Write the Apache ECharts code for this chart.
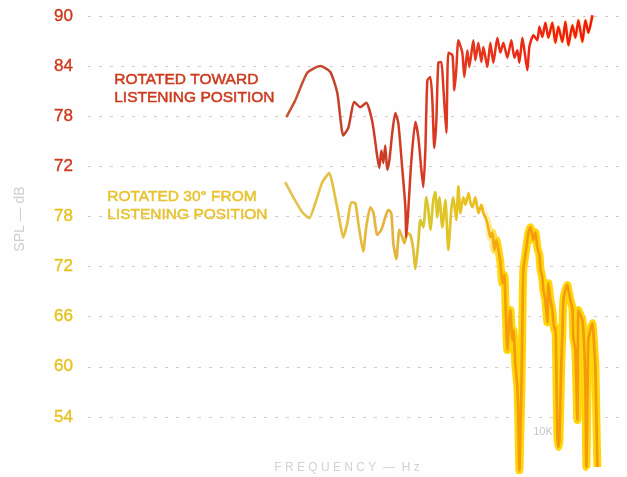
<!DOCTYPE html>
<html>
<head>
<meta charset="utf-8">
<script src="https://cdn.jsdelivr.net/npm/echarts@6/dist/echarts.min.js"></script>
<style>
  html, body { margin: 0; padding: 0; background: #fefefe; }
  #chart { width: 627px; height: 477px; }
</style>
</head>
<body>
<div id="chart"></div>
<script>
// Loudspeaker frequency response, two orientations (Hz, dB SPL)
const towardFreq = [24, 29.5, 38.9, 52.5, 66.1, 77.6, 89.1,
  100, 115, 132, 151, 174, 195, 204, 214, 224, 234, 245, 257, 275, 295, 316, 347, 372, 380, 398, 427,
  468, 501, 537, 562, 589, 617, 661, 692, 724, 759, 794, 851, 891, 955,
  1000, 1100, 1150, 1200, 1260, 1380, 1445, 1549, 1622, 1778, 1862, 1995, 2138, 2239, 2455, 2630, 2818,
  3090, 3311, 3548, 3890, 4266, 4571, 4898, 5129, 5495, 5754, 6166, 6457, 7079, 7762, 8128, 8710, 9333,
  10000, 10960, 11750, 12590, 13800, 14790, 15850, 17380, 18620, 19950, 21880, 23440, 25120, 27540];
const towardSpl = [77.9, 79.9, 83.2, 84.0, 83.3, 80.8, 75.7,
  76.6, 79.7, 79.1, 79.6, 77.3, 73.1, 71.8, 73.9, 72.4, 74.5, 71.6, 72.7, 76.0, 78.4, 77.2, 71.6, 67.1, 63.5, 66.8, 72.7,
  77.3, 75.5, 71.6, 69.5, 73.9, 82.3, 82.7, 79.9, 74.2, 77.5, 84.4, 84.5, 81.5, 76.0,
  85.6, 85.3, 81.1, 83.5, 87.1, 85.6, 82.7, 85.9, 83.9, 87.1, 84.7, 86.8, 84.5, 86.3, 83.9, 86.8, 84.4,
  87.4, 85.6, 86.8, 85.0, 87.1, 85.0, 85.9, 84.4, 87.4, 85.9, 83.5, 86.3, 87.7, 87.1, 88.7, 87.5, 89.2,
  87.4, 89.2, 86.8, 88.7, 86.9, 89.3, 86.5, 88.9, 87.4, 89.5, 86.9, 89.5, 88.0, 90.1];

const offFreq = [23.4, 28.2, 34.7, 40.7, 46.8, 55.0, 64.6, 70.8, 79.4, 89.1, 97.7,
  107, 117.5, 126, 141, 151, 166, 178, 195, 214, 234, 251, 269, 282, 302, 324, 347, 363, 389, 417, 447,
  468, 501, 525, 562, 603, 631, 661, 708, 741, 776, 813, 871, 933,
  1000, 1070, 1120, 1200, 1260, 1320, 1410, 1480, 1590, 1660, 1740, 1860, 2000, 2140, 2240, 2400, 2510,
  2630, 2750, 2880, 3020, 3160, 3310, 3470, 3630, 3720, 3890, 4070, 4170, 4370, 4470, 4680, 4900, 5010,
  5130, 5250, 5370, 5500, 5620, 5890, 6170, 6310, 6610, 6920, 7080, 7410, 7760, 8130, 8320, 8710, 8910,
  9330, 9770,
  10000, 10470, 10960, 11480, 11750, 12300, 12590, 12880, 13490, 13800, 14130, 14790, 15490, 15850,
  16600, 17380, 17780, 18620, 19500, 19950, 20890, 21880, 22910, 23440, 23990, 24550, 25120, 26300,
  27540, 28840, 29510, 30200, 30900];
const offSpl = [82.1, 80.3, 78.5, 77.8, 79.6, 82.1, 83.2, 81.4, 78.4, 75.5, 77.2,
  79.7, 79.6, 77.2, 73.8, 76.7, 79.1, 78.5, 75.8, 76.4, 77.9, 78.8, 78.4, 74.8, 72.9, 76.4, 75.5, 74.8, 76.0, 75.8, 74.0,
  71.7, 74.8, 77.6, 76.7, 80.3, 78.8, 76.4, 80.0, 80.9, 77.9, 80.3, 76.7, 80.0,
  74.0, 78.8, 80.3, 77.6, 81.6, 78.4, 80.3, 79.4, 80.8, 79.7, 79.1, 80.3, 78.4, 79.4, 78.4, 77.6, 76.6,
  75.5, 76.1, 74.0, 75.2, 74.0, 72.5, 70.0, 71.0, 68.0, 62.0, 65.8, 66.8, 63.2, 64.4, 60.2, 57.6, 53.6,
  47.6, 52.4, 57.2, 65.6, 71.6, 73.4, 75.2, 76.0, 76.7, 75.8, 75.2, 76.1, 74.3, 73.4, 71.8, 70.6, 69.2,
  68.0, 65.3,
  70.0, 68.0, 66.8, 64.4, 64.7, 52.0, 50.4, 51.2, 60.8, 64.0, 68.0, 69.2, 69.8, 69.2,
  68.0, 67.0, 63.5, 62.0, 53.6, 66.8, 66.2, 65.6, 62.0, 57.6, 48.0, 56.0, 63.2, 64.4,
  65.2, 62.0, 60.0, 53.6, 48.0];

// Tick labels of the two stacked scales
const towardTicks = [90, 84, 78, 72];
const offTicks = [78, 72, 66, 60, 54];
// The off-axis trace sits 12 dB lower on the shared plotting scale
const OFF_SHIFT = 12;

const RED = '#cc3a1c';
const YELLOW = '#e6c21e';
const FONT = '"Liberation Sans", Arial, sans-serif';

const towardData = towardFreq.map((f, i) => [f, towardSpl[i]]);
const offData = offFreq.map((f, i) => [f, offSpl[i] - OFF_SHIFT]);

const grad = (stops) => new echarts.graphic.LinearGradient(0, 0, 1, 0,
  stops.map(s => ({ offset: s[0], color: s[1] })));

const gridColor = '#cfcac6';
const chart = echarts.init(document.getElementById('chart'), null, { renderer: 'canvas' });

chart.setOption({
  backgroundColor: '#fefefe',
  animation: false,
  grid: { left: 88, right: 7, top: 16, bottom: 10, containLabel: false },
  xAxis: {
    type: 'log',
    logBase: 10,
    min: 0.25,
    max: 52000,
    axisLine: { show: false },
    axisTick: { show: false },
    axisLabel: { show: false },
    splitLine: { show: false }
  },
  yAxis: {
    type: 'value',
    min: 36,
    max: 90,
    interval: 6,
    axisLine: { show: false },
    axisTick: { show: false },
    axisLabel: {
      margin: 15,
      formatter: function (v) {
        if (v >= 72 && towardTicks.indexOf(v) >= 0) return '{r|' + v + '}';
        if (v < 72 && offTicks.indexOf(v + OFF_SHIFT) >= 0) return '{y|' + (v + OFF_SHIFT) + '}';
        return '';
      },
      rich: {
        r: { color: RED, fontSize: 17, fontFamily: FONT, textBorderColor: RED, textBorderWidth: 0.4 },
        y: { color: YELLOW, fontSize: 17, fontFamily: FONT, textBorderColor: YELLOW, textBorderWidth: 0.4 }
      }
    },
    splitLine: {
      show: true,
      lineStyle: {
        color: ['rgba(0,0,0,0)', gridColor, gridColor, gridColor, gridColor,
                gridColor, gridColor, gridColor, gridColor, gridColor],
        width: 1,
        type: [3, 8]
      }
    }
  },
  series: [
    {
      // yellow glow around the noisy treble part of the off-axis trace
      type: 'line', data: offData, showSymbol: false, clip: false, smooth: 0.2,
      silent: true, z: 2,
      lineStyle: {
        width: 8,
        color: grad([[0, 'rgba(255,214,10,0)'], [0.63, 'rgba(255,214,10,0)'],
                     [0.68, '#ffd60c'], [1, '#ffd60c']])
      }
    },
    {
      name: 'ROTATED 30° FROM LISTENING POSITION',
      type: 'line', data: offData, showSymbol: false, clip: false, smooth: 0.2, z: 3,
      lineStyle: {
        width: 2.7,
        color: grad([[0, '#e2c556'], [0.2, '#e6bf3c'], [0.33, '#e6b040'], [0.45, '#d9c62c'],
                     [0.6, '#ecc01e'], [0.67, '#f5a812'], [0.7, '#f49c0c'], [1, '#f49a0c']])
      }
    },
    {
      // faint yellow sheen around the treble part of the on-axis trace
      type: 'line', data: towardData, showSymbol: false, clip: false, smooth: 0.2,
      silent: true, z: 4,
      lineStyle: {
        width: 4,
        color: grad([[0, 'rgba(255,215,70,0)'], [0.82, 'rgba(255,215,70,0)'],
                     [0.86, 'rgba(255,215,70,0.35)'], [1, 'rgba(255,215,70,0.35)']])
      }
    },
    {
      name: 'ROTATED TOWARD LISTENING POSITION',
      type: 'line', data: towardData, showSymbol: false, clip: false, smooth: 0.2, z: 5,
      lineStyle: {
        width: 2.5,
        color: grad([[0, '#c8552e'], [0.2, '#c4402a'], [0.44, '#d63a22'],
                     [0.62, '#e6361c'], [0.8, '#ef2612'], [1, '#f2180c']])
      }
    }
  ],
  graphic: [
    {
      type: 'text', left: 114, top: 71, z: 10,
      style: { text: 'ROTATED TOWARD\nLISTENING POSITION', font: '15.5px ' + FONT,
               fill: RED, stroke: RED, lineWidth: 0.5, lineHeight: 18 }
    },
    {
      type: 'text', left: 107, top: 188, z: 10,
      style: { text: 'ROTATED 30° FROM\nLISTENING POSITION', font: '15.5px ' + FONT,
               fill: '#e8c230', stroke: '#e8c230', lineWidth: 0.5, lineHeight: 18 }
    },
    {
      type: 'text', x: 20, y: 219, rotation: Math.PI / 2, z: 10,
      style: { text: 'SPL — dB', font: '14px ' + FONT, fill: '#cdcdcd',
               textAlign: 'center', textVerticalAlign: 'middle', align: 'center', verticalAlign: 'middle' }
    },
    {
      type: 'text', x: 347, y: 468, z: 10,
      style: { text: 'F R E Q U E N C Y  —  H z', font: '12px ' + FONT, fill: '#d2d2d2',
               textAlign: 'center', textVerticalAlign: 'middle', align: 'center', verticalAlign: 'middle' }
    },
    {
      type: 'text', x: 543, y: 432, z: 10,
      style: { text: '10K', font: '11px ' + FONT, fill: '#c8c8c8',
               textAlign: 'center', textVerticalAlign: 'middle', align: 'center', verticalAlign: 'middle' }
    }
  ]
});
</script>
</body>
</html>
